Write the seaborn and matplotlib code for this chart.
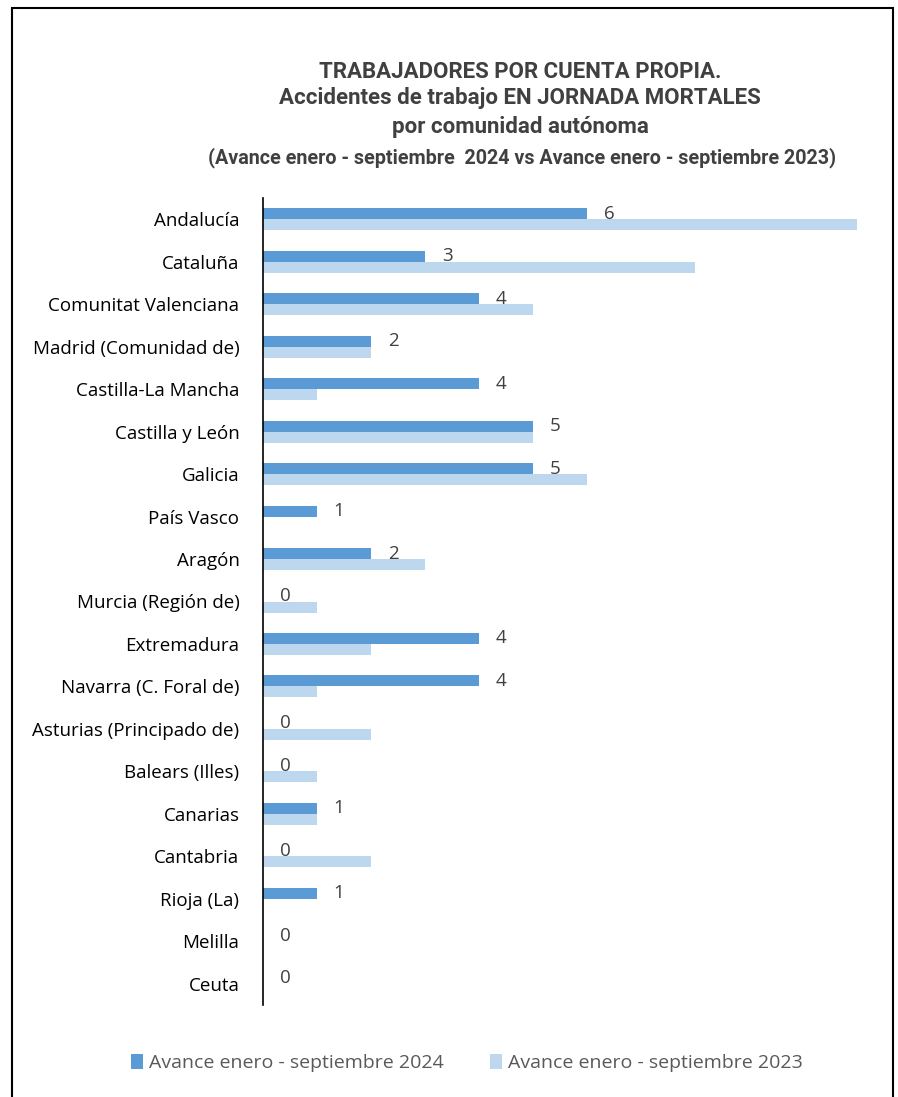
import matplotlib
matplotlib.use("Agg")
import matplotlib.pyplot as plt
import seaborn as sns
import pandas as pd
from matplotlib.patches import Rectangle, Patch

regions = ["Andalucía", "Cataluña", "Comunitat Valenciana", "Madrid (Comunidad de)",
           "Castilla-La Mancha", "Castilla y León", "Galicia", "País Vasco", "Aragón",
           "Murcia (Región de)", "Extremadura", "Navarra (C. Foral de)",
           "Asturias (Principado de)", "Balears (Illes)", "Canarias", "Cantabria",
           "Rioja (La)", "Melilla", "Ceuta"]
values_2024 = [6, 3, 4, 2, 4, 5, 5, 1, 2, 0, 4, 4, 0, 0, 1, 0, 1, 0, 0]
values_2023 = [11, 8, 5, 2, 1, 5, 6, 0, 3, 1, 2, 1, 2, 1, 1, 2, 0, 0, 0]
series = ["Avance enero - septiembre 2024", "Avance enero - septiembre 2023"]
colors = ["#5B9BD5", "#BDD7EE"]

df = pd.DataFrame({
    "region": regions * 2,
    "value": values_2024 + values_2023,
    "serie": [series[0]] * len(regions) + [series[1]] * len(regions),
})

sns.set_theme(style="white")
plt.rcParams["font.family"] = ["Open Sans", "DejaVu Sans"]

W, H = 898, 1097
fig = plt.figure(figsize=(W / 100, H / 100), dpi=100)
ax_left, ax_right = 263 / W, 868 / W
ax_top, ax_bot = 198 / H, 1005 / H
ax = fig.add_axes([ax_left, 1 - ax_bot, ax_right - ax_left, ax_bot - ax_top])

sns.barplot(data=df, y="region", x="value", hue="serie", order=regions,
            hue_order=series, palette=colors, orient="h", width=0.52,
            ax=ax, legend=False, saturation=1, linewidth=0)

ax.set_xlim(0, 11.2)
ax.set_ylim(len(regions) - 0.5, -0.5)
ax.set_xlabel("")
ax.set_ylabel("")
ax.set_xticks([])
for s in ["top", "right", "bottom"]:
    ax.spines[s].set_visible(False)
ax.spines["left"].set_color("black")
ax.spines["left"].set_linewidth(1.2)
ax.tick_params(axis="y", length=0, pad=17, labelsize=13.5, labelcolor="#000000")

for i, v in enumerate(values_2024):
    ax.annotate(str(v), xy=(v, i - 0.13), xytext=(12, 0), textcoords="offset points",
                va="center", ha="left", fontsize=13.5, color="#404040")

tfam = ["Roboto", "DejaVu Sans"]
title_lines = [
    ("TRABAJADORES POR CUENTA PROPIA.", 72, 16),
    ("Accidentes de trabajo EN JORNADA MORTALES", 98, 16),
    ("por comunidad autónoma", 127, 16),
]
for txt, y, fs in title_lines:
    fig.text(520 / W, 1 - y / H, txt, ha="center", va="center", fontsize=fs,
             fontweight="bold", color="#404040", family=tfam)
fig.text(522 / W, 1 - 158 / H, "(Avance enero - septiembre  2024 vs Avance enero - septiembre 2023)",
         ha="center", va="center", fontsize=14.2, fontweight="bold", color="#404040",
         family=tfam)

handles = [Patch(facecolor=c, edgecolor="none") for c in colors]
fig.legend(handles, series, loc="center", bbox_to_anchor=(467 / W, 1 - 1063 / H), ncol=2,
           frameon=False, fontsize=14, labelcolor="#595959", handlelength=0.6,
           handleheight=0.8, handletextpad=0.3, columnspacing=2.4)

fig.patches.append(Rectangle((12 / W, -0.05), (893 - 12) / W, 1.05 - 8 / H,
                             transform=fig.transFigure, fill=False, edgecolor="black",
                             linewidth=1.5))

fig.savefig("out.png", dpi=100)
